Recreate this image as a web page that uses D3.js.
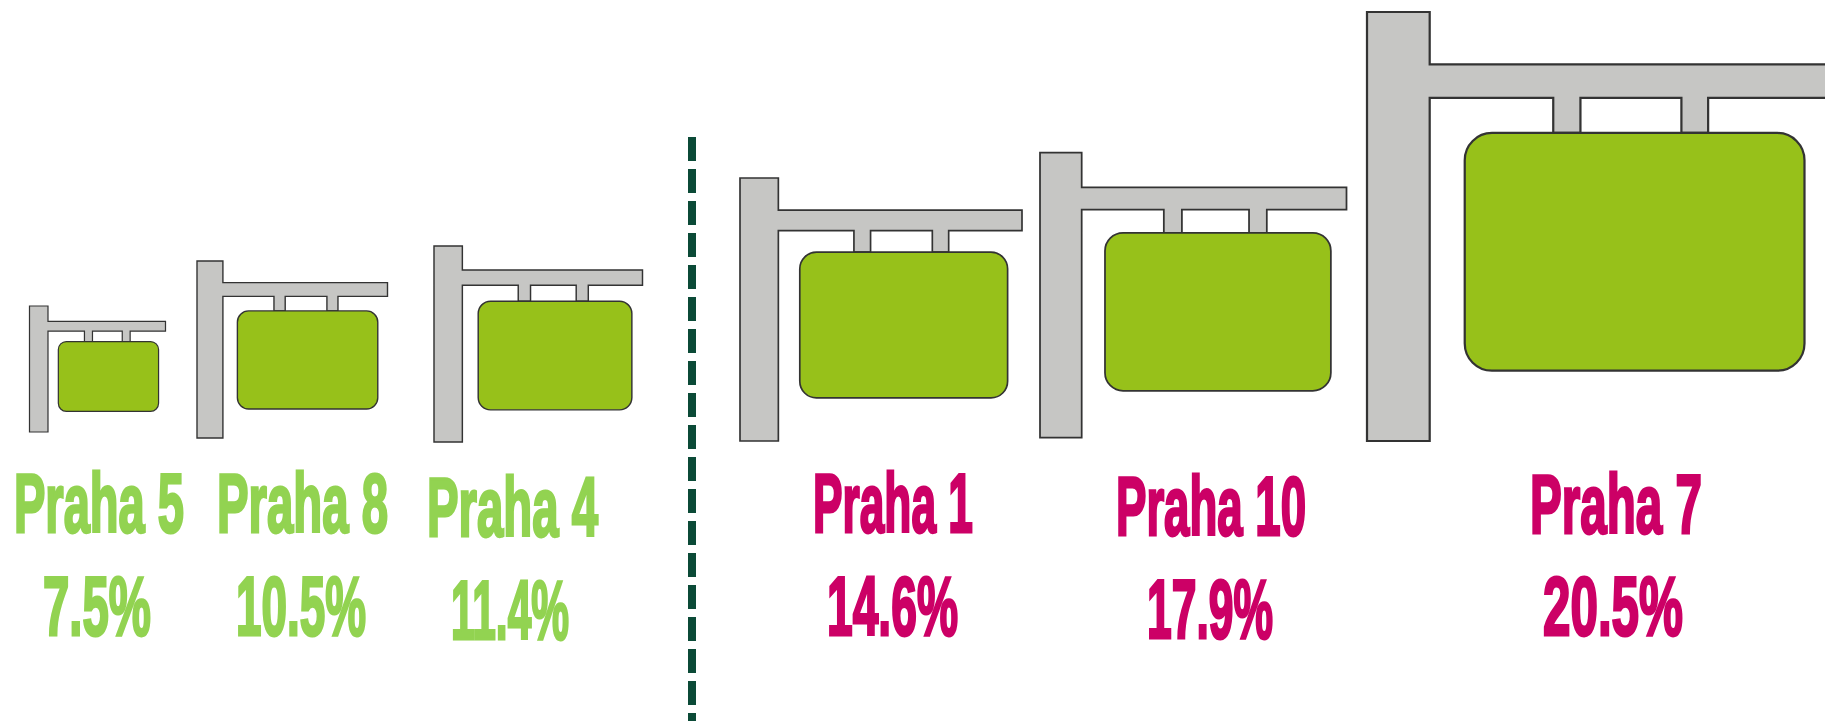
<!DOCTYPE html>
<html>
<head>
<meta charset="utf-8">
<script src="https://cdn.jsdelivr.net/npm/d3@7"></script>
<style>
  html, body { margin: 0; padding: 0; background: #fff; overflow: hidden; }
  svg { display: block; }
  text { font-family: "Liberation Sans Narrow", "Liberation Sans", sans-serif; font-weight: 700; }
</style>
</head>
<body>
<div id="chart"></div>
<script>
// data, left of the divider = green, right = magenta
const districts = ["Praha 5", "Praha 8", "Praha 4", "Praha 1", "Praha 10", "Praha 7"];
const shares = [7.5, 10.5, 11.4, 14.6, 17.9, 20.5];
const valueLabels = ["7.5%", "10.5%", "11.4%", "14.6%", "17.9%", "20.5%"];
const aboveAverage = [false, false, false, true, true, true];

// layout, keyed by district through ordinal scales
const postLeft = [29.5, 197, 434, 740, 1040, 1367];
const postBase = [432, 438, 442, 441, 437.5, 441];
const labelLeft = [14, 217, 427, 813, 1116, 1530];
const labelWidth = [170, 171, 171, 160, 190, 172];
const labelBase = [532, 532, 536, 532, 535, 533];
const valueLeft = [43, 236, 451, 827, 1147, 1543];
const valueWidth = [108, 130, 118, 131, 126, 140];
const valueBase = [635, 635, 639, 635, 638, 635];

const width = 1825, height = 721;

const svg = d3.select("#chart").append("svg")
  .attr("width", width)
  .attr("height", height);

// the sign sizes are not quite linear in the source, so piecewise
const signHeight = d3.scaleLinear().domain(shares).range([126, 177, 196, 263, 285, 429]);
const signWidth = d3.scaleLinear().domain(shares).range([136, 190.5, 208.5, 282, 306.5, 461]);

const scaleOf = (arr) => d3.scaleOrdinal().domain(districts).range(arr);
const xPost = scaleOf(postLeft), yBase = scaleOf(postBase);
const xLabel = scaleOf(labelLeft), wLabel = scaleOf(labelWidth), yLabel = scaleOf(labelBase);
const xValue = scaleOf(valueLeft), wValue = scaleOf(valueWidth), yValue = scaleOf(valueBase);

// sign glyph in unit space
const frameShape = [[0, 0], [.136, 0], [.136, .122], [1, .122], [1, .2], [.74, .2], [.74, .282],
  [.682, .282], [.682, .2], [.463, .2], [.463, .282], [.404, .282], [.404, .2], [.136, .2], [.136, 1], [0, 1]];
const board = { x0: .212, x1: .949, y0: .282, y1: .836, r: .059 };

const rows = districts.map((name, i) => ({
  name, share: shares[i], label: valueLabels[i], high: aboveAverage[i]
}));

const signs = svg.selectAll("g.sign").data(rows).enter().append("g").attr("class", "sign");

signs.each(function (d) {
  const w = signWidth(d.share), h = signHeight(d.share);
  const x = d3.scaleLinear([0, 1], [xPost(d.name), xPost(d.name) + w]);
  const y = d3.scaleLinear([0, 1], [yBase(d.name) - h, yBase(d.name)]);
  const sw = 0.8 + h / 300;
  const g = d3.select(this);
  g.append("path")
    .attr("d", d3.line().x(p => x(p[0])).y(p => y(p[1]))(frameShape) + "Z")
    .attr("fill", "#c6c6c4")
    .attr("stroke", "#333")
    .attr("stroke-width", sw);
  g.append("rect")
    .attr("x", x(board.x0))
    .attr("y", y(board.y0))
    .attr("width", x(board.x1) - x(board.x0))
    .attr("height", y(board.y1) - y(board.y0))
    .attr("rx", board.r * w)
    .attr("fill", "#97c11a")
    .attr("stroke", "#333")
    .attr("stroke-width", sw);
});

const textColor = d => d.high ? "#cc0066" : "#92d351";

// squeeze each text horizontally to the width it has in the reference
function addText(sel, str, xs, ws, ys) {
  sel.append("text")
    .attr("font-size", 84)
    .attr("fill", textColor)
    .attr("stroke", textColor)
    .attr("stroke-width", 2.4)
    .style("vector-effect", "non-scaling-stroke")
    .text(str)
    .attr("transform", function (d) {
      const k = ws(d.name) / this.getComputedTextLength();
      return `translate(${xs(d.name)},${ys(d.name)}) scale(${k},1)`;
    });
}
addText(signs, d => d.name, xLabel, wLabel, yLabel);
addText(signs, d => d.label, xValue, wValue, yValue);

// divider
svg.append("line")
  .attr("x1", 692).attr("x2", 692)
  .attr("y1", 137).attr("y2", height)
  .attr("stroke", "#0b4a37")
  .attr("stroke-width", 8)
  .attr("stroke-dasharray", "24 8");
</script>
</body>
</html>
